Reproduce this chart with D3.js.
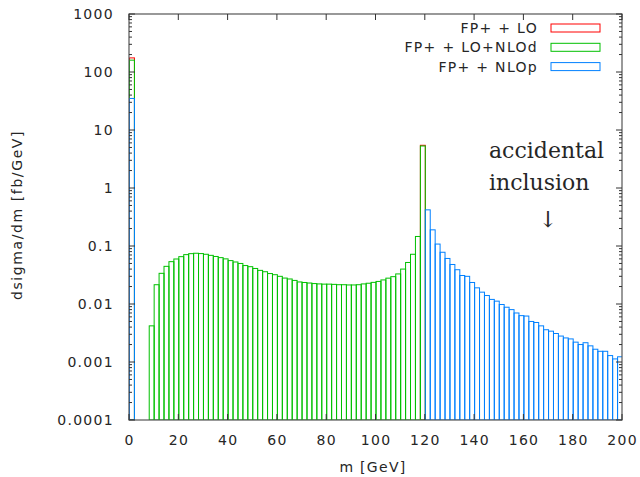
<!DOCTYPE html>
<html>
<head>
<script src="https://d3js.org/d3.v7.min.js"></script>
<style>
  body { margin: 0; background: #fff; }
  text { font-family: "DejaVu Sans", sans-serif; fill: #262626; }
</style>
</head>
<body>
<script>
  var width = 640, height = 477;
  var binWidth = 2;

  // FP++ LO (red)
  var loEdges  = [0, 118];
  var loValues = [175, 5.45];

  // FP++ LO+NLOd (green)
  var nlodEdges = [0].concat(d3.range(8, 120, 2));
  var nlodValues = [160,
    0.0042, 0.0215, 0.0338, 0.0446, 0.0537, 0.0597, 0.0655, 0.071, 0.0738, 0.075,
    0.074, 0.072, 0.069, 0.066, 0.063, 0.060, 0.056, 0.053, 0.050, 0.046,
    0.044, 0.041, 0.038, 0.036, 0.0335, 0.032, 0.030, 0.028, 0.027, 0.0255,
    0.024, 0.0235, 0.023, 0.0225, 0.0222, 0.022, 0.022, 0.0218, 0.0215, 0.0215,
    0.0213, 0.0213, 0.0215, 0.0222, 0.0228, 0.0236, 0.0245, 0.026, 0.0279, 0.0296,
    0.033, 0.040, 0.052, 0.072, 0.146, 5.3];

  // FP++ NLOp (blue)
  var nlopEdges = [0].concat(d3.range(120, 200, 2));
  var nlopValues = [35,
    0.42, 0.19, 0.108, 0.078, 0.061, 0.048, 0.039, 0.031, 0.030, 0.0235,
    0.019, 0.016, 0.014, 0.012, 0.0112, 0.0098, 0.0088, 0.008, 0.007, 0.0063,
    0.0062, 0.005, 0.0048, 0.0042, 0.0036, 0.0034, 0.0031, 0.0028, 0.0026, 0.0025,
    0.0022, 0.002, 0.00215, 0.0019, 0.00166, 0.00153, 0.00153, 0.00129, 0.00113, 0.00123];

  var xTicks = d3.range(0, 201, 20);
  var yTicks = [0.0001, 0.001, 0.01, 0.1, 1, 10, 100, 1000];
  var yTickLabels = ["0.0001", "0.001", "0.01", "0.1", "1", "10", "100", "1000"];

  var series = [
    {name: "FP+ + LO",       color: "#ff0000", edges: loEdges,   values: loValues},
    {name: "FP+ + LO+NLOd",  color: "#00c000", edges: nlodEdges, values: nlodValues},
    {name: "FP+ + NLOp",     color: "#0080ff", edges: nlopEdges, values: nlopValues}
  ];

  var x = d3.scaleLinear().domain([0, 200]).range([129, 622]);
  var y = d3.scaleLog().domain([0.0001, 1000]).range([420, 14]);

  var svg = d3.select("body").append("svg")
    .attr("width", width)
    .attr("height", height);

  svg.append("defs").append("clipPath").attr("id", "plotclip")
    .append("rect")
    .attr("x", x(0)).attr("y", y(1000))
    .attr("width", x(200) - x(0)).attr("height", y(0.0001) - y(1000));

  var plot = svg.append("g").attr("clip-path", "url(#plotclip)");

  series.forEach(function(s) {
    var bins = s.edges.map(function(e, i) { return {lo: e, v: s.values[i]}; });
    plot.append("g").selectAll("rect")
      .data(bins).enter()
      .append("rect")
      .attr("x", function(d) { return x(d.lo) + 0.5; })
      .attr("y", function(d) { return y(d.v); })
      .attr("width", function(d) { return x(d.lo + binWidth) - x(d.lo); })
      .attr("height", function(d) { return y(0.0001) - y(d.v); })
      .style("fill", "none")
      .style("stroke", s.color)
      .style("stroke-width", 1);
  });

  // frame
  svg.append("rect")
    .attr("x", x(0)).attr("y", y(1000))
    .attr("width", x(200) - x(0)).attr("height", y(0.0001) - y(1000))
    .style("fill", "none").style("stroke", "#555").style("stroke-width", 1.2);

  // y ticks: major + minor, mirrored
  var minor = [];
  yTicks.slice(0, -1).forEach(function(t) {
    for (var k = 2; k <= 9; k++) minor.push(t * k);
  });
  var ax = svg.append("g").style("stroke", "#333").style("stroke-width", 1);
  yTicks.forEach(function(t) {
    ax.append("line").attr("x1", x(0)).attr("x2", x(0) + 6).attr("y1", y(t)).attr("y2", y(t));
    ax.append("line").attr("x1", x(200)).attr("x2", x(200) - 6).attr("y1", y(t)).attr("y2", y(t));
  });
  minor.forEach(function(t) {
    ax.append("line").attr("x1", x(0)).attr("x2", x(0) + 3).attr("y1", y(t)).attr("y2", y(t));
    ax.append("line").attr("x1", x(200)).attr("x2", x(200) - 3).attr("y1", y(t)).attr("y2", y(t));
  });
  xTicks.forEach(function(t) {
    ax.append("line").attr("x1", x(t)).attr("x2", x(t)).attr("y1", y(0.0001)).attr("y2", y(0.0001) - 6);
    ax.append("line").attr("x1", x(t)).attr("x2", x(t)).attr("y1", y(1000)).attr("y2", y(1000) + 6);
  });

  var ls = "1.3px";

  svg.selectAll(".ylab").data(yTicks).enter()
    .append("text")
    .attr("x", 114)
    .attr("y", function(d) { return y(d) + 5; })
    .attr("text-anchor", "end")
    .style("font-size", "14px").style("letter-spacing", ls)
    .text(function(d, i) { return yTickLabels[i]; });

  svg.selectAll(".xlab").data(xTicks).enter()
    .append("text")
    .attr("x", function(d) { return x(d) + 0.6; })
    .attr("y", 445)
    .attr("text-anchor", "middle")
    .style("font-size", "14px").style("letter-spacing", ls)
    .text(function(d) { return d; });

  svg.append("text")
    .attr("x", 373).attr("y", 472)
    .attr("text-anchor", "middle")
    .style("font-size", "14px").style("letter-spacing", ls)
    .text("m [GeV]");

  svg.append("text")
    .attr("transform", "translate(22,215) rotate(-90)")
    .attr("text-anchor", "middle")
    .style("font-size", "14px").style("letter-spacing", "1.6px")
    .text("dsigma/dm [fb/GeV]");

  // legend
  var leg = svg.append("g");
  series.forEach(function(s, i) {
    var cy = 28 + i * 19.3;
    leg.append("text")
      .attr("x", 538).attr("y", cy + 5)
      .attr("text-anchor", "end")
      .style("font-size", "14px").style("letter-spacing", ls)
      .text(s.name);
    leg.append("rect")
      .attr("x", 551).attr("y", cy - 4)
      .attr("width", 49).attr("height", 8)
      .style("fill", "none").style("stroke", s.color).style("stroke-width", 1);
  });

  // annotation
  var note = svg.append("g");
  note.append("text").attr("x", 489).attr("y", 158)
    .style("font-family", "'DejaVu Serif', serif").style("font-size", "22px").text("accidental");
  note.append("text").attr("x", 489).attr("y", 190)
    .style("font-family", "'DejaVu Serif', serif").style("font-size", "22px").text("inclusion");
  note.append("text").attr("x", 548).attr("y", 227)
    .attr("text-anchor", "middle")
    .style("font-family", "'DejaVu Serif', serif").style("font-size", "22px").text("\u2193");
</script>
</body>
</html>
